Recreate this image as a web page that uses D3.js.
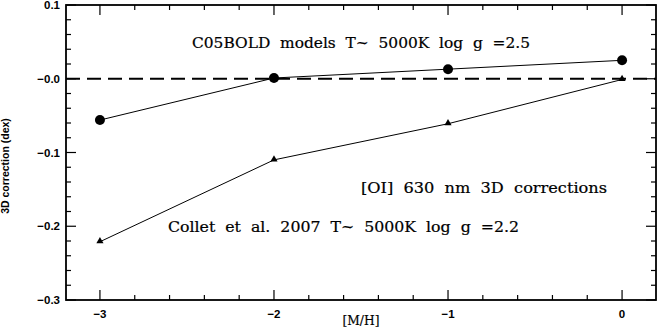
<!DOCTYPE html>
<meta charset="utf-8">
<script src="https://cdn.jsdelivr.net/npm/d3@7"></script>
<style>
    body { margin: 0; background: #fff; }
    text { fill: #000; }
    .tick-label { font-family: "Liberation Sans", Arial, sans-serif; font-weight: bold; font-size: 11.5px; }
    .note { font-family: "DejaVu Serif", serif; font-size: 14px; white-space: pre; stroke: #000; stroke-width: 0.2; }
</style>
<body>
<script>

    // data
    var metal = [-3, -2, -1, 0]
    var co5bold = [-0.056, 0.001, 0.013, 0.025]
    var collet = [-0.221, -0.110, -0.061, -0.001]
    var xTicks = [-3, -2, -1, 0]
    var yTicks = [0.1, 0.0, -0.1, -0.2, -0.3]
    var yTickText = ["0.1", "\u22120.0", "\u22120.1", "\u22120.2", "\u22120.3"]

    var W = 657, H = 335
    var pl = 66, pr = 656, pt = 5, pb = 300

    var x = d3.scaleLinear().domain([-3.195, 0.195]).range([pl, pr])
    var y = d3.scaleLinear().domain([-0.3, 0.1]).range([pb, pt])

    var svg = d3.select("body").append("svg").attr("width", W).attr("height", H)

    // minor / major ticks on all four sides
    var xMinor = d3.range(-3.2, 0.21, 0.2).map(v => +v.toFixed(2)).filter(v => v >= -3.195 && v <= 0.195)
    var yMinor = d3.range(-0.3, 0.101, 0.02).map(v => +v.toFixed(3))
    var ticks = svg.append("g").attr("stroke", "#000").attr("stroke-width", 1.2)
    xMinor.forEach(v => {
        var major = Math.abs(v - Math.round(v)) < 1e-6
        var len = major ? 10 : 5
        ticks.append("line").attr("x1", x(v)).attr("x2", x(v)).attr("y1", pb).attr("y2", pb - len)
        ticks.append("line").attr("x1", x(v)).attr("x2", x(v)).attr("y1", pt).attr("y2", pt + len)
    })
    yMinor.forEach(v => {
        var major = Math.abs(v * 10 - Math.round(v * 10)) < 1e-6
        var len = major ? 10 : 5
        ticks.append("line").attr("y1", y(v)).attr("y2", y(v)).attr("x1", pl).attr("x2", pl + len)
        ticks.append("line").attr("y1", y(v)).attr("y2", y(v)).attr("x1", pr).attr("x2", pr - len)
    })

    // frame
    svg.append("rect").attr("x", pl).attr("y", pt).attr("width", pr - pl).attr("height", pb - pt)
        .attr("fill", "none").attr("stroke", "#000").attr("stroke-width", 1.8)

    // tick labels
    svg.selectAll(".ylab").data(yTicks).enter().append("text").attr("class", "tick-label")
        .attr("x", 60).attr("y", d => y(d) + 4).attr("text-anchor", "end")
        .text((d, i) => yTickText[i])
    svg.selectAll(".xlab").data(xTicks).enter().append("text").attr("class", "tick-label")
        .attr("x", d => x(d)).attr("y", 318).attr("text-anchor", "middle")
        .text(d => d < 0 ? "\u2212" + Math.abs(d) : d)

    // axis titles
    svg.append("text").attr("class", "tick-label").style("font-size", "10.5px")
        .attr("transform", "translate(9,166) rotate(-90)").attr("text-anchor", "middle")
        .text("3D correction (dex)")
    svg.append("text").attr("class", "note").style("font-size", "13px")
        .attr("x", (pl + pr) / 2).attr("y", 325).attr("text-anchor", "middle")
        .attr("textLength", 37).attr("lengthAdjust", "spacingAndGlyphs").text("[M/H]")

    // zero line
    svg.append("line").attr("x1", pl).attr("x2", pr).attr("y1", y(0)).attr("y2", y(0))
        .attr("stroke", "#000").attr("stroke-width", 2).attr("stroke-dasharray", "14,7")

    var line = d3.line().x(d => x(d[0])).y(d => y(d[1]))
    var coData = metal.map((m, i) => [m, co5bold[i]])
    var colData = metal.map((m, i) => [m, collet[i]])

    svg.append("path").datum(coData).attr("d", line).attr("fill", "none").attr("stroke", "#000").attr("stroke-width", 1)
    svg.append("path").datum(colData).attr("d", line).attr("fill", "none").attr("stroke", "#000").attr("stroke-width", 1)

    svg.selectAll(".dot").data(coData).enter().append("circle")
        .attr("cx", d => x(d[0])).attr("cy", d => y(d[1])).attr("r", 5).attr("fill", "#000")
    svg.selectAll(".tri").data(colData).enter().append("path")
        .attr("d", d3.symbol().type(d3.symbolTriangle).size(22))
        .attr("transform", d => "translate(" + x(d[0]) + "," + (y(d[1]) - 0.5) + ")")
        .attr("fill", "#000")

    // annotations
    svg.append("text").attr("class", "note").attr("x", 192).attr("y", 48)
        .attr("textLength", 338).attr("lengthAdjust", "spacingAndGlyphs")
        .text("C05BOLD  models  T~  5000K  log  g  =2.5")
    svg.append("text").attr("class", "note").attr("x", 361).attr("y", 193)
        .attr("textLength", 246).attr("lengthAdjust", "spacingAndGlyphs")
        .text("[OI]  630  nm  3D  corrections")
    svg.append("text").attr("class", "note").attr("x", 168).attr("y", 232)
        .attr("textLength", 351).attr("lengthAdjust", "spacingAndGlyphs")
        .text("Collet  et  al.  2007  T~  5000K  log  g  =2.2")

</script>
</body>
